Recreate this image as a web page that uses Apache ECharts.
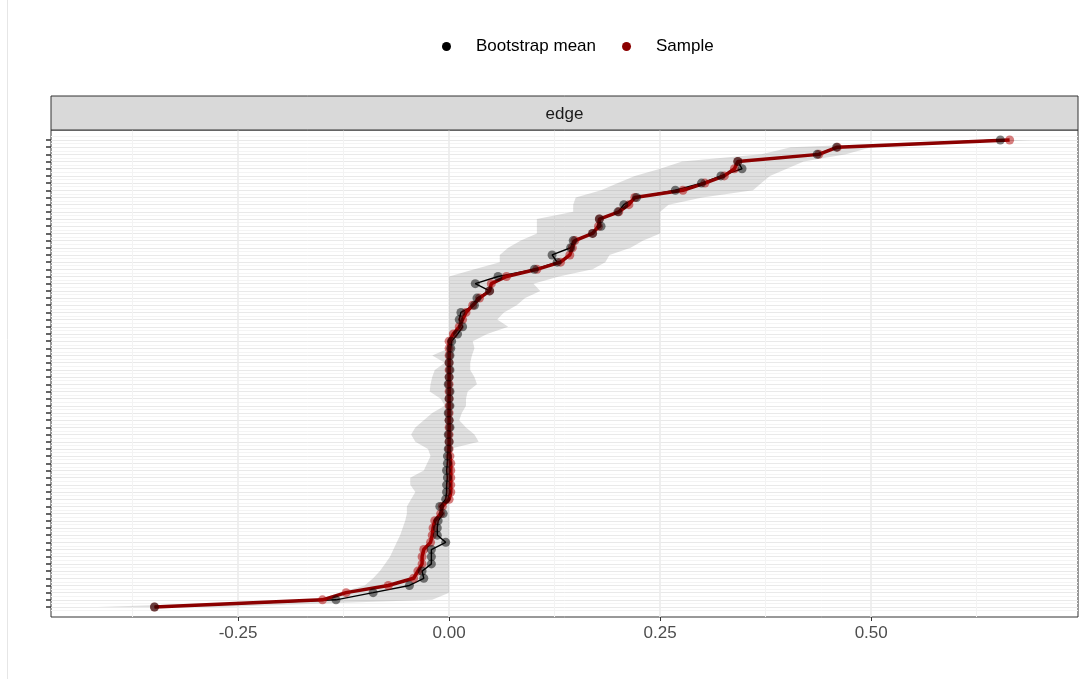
<!DOCTYPE html>
<html>
<head>
<meta charset="utf-8">
<script src="https://cdn.jsdelivr.net/npm/echarts@6/dist/echarts.min.js"></script>
<style>
html,body{margin:0;padding:0;background:#fff;}
#chart{width:1084px;height:679px;}
</style>
</head>
<body>
<div id="chart"></div>
<script>
// Edges sorted by sample value (index 0 = bottom, 65 = top)
const sampleVals = [
  -0.349,-0.150,-0.122,-0.072,-0.042,-0.037,-0.032,-0.032,-0.030,-0.022,
  -0.020,-0.019,-0.017,-0.010,-0.008, 0.000, 0.002, 0.002, 0.002, 0.002,
   0.002, 0.001, 0.000, 0.000, 0.000, 0.000, 0.000, 0.000, 0.000, 0.000,
   0.000, 0.000, 0.000, 0.000, 0.000, 0.000, 0.000, 0.000, 0.005, 0.012,
   0.016, 0.020, 0.028, 0.036, 0.048, 0.050, 0.068, 0.104, 0.132, 0.143,
   0.146, 0.149, 0.170, 0.177, 0.178, 0.201, 0.213, 0.220, 0.277, 0.303,
   0.326, 0.338, 0.342, 0.438, 0.460, 0.664
];
const bootMeanVals = [
  -0.349,-0.134,-0.090,-0.047,-0.030,-0.032,-0.021,-0.021,-0.021,-0.004,
  -0.014,-0.014,-0.013,-0.007,-0.011,-0.004,-0.003,-0.003,-0.002,-0.003,
  -0.002,-0.002,-0.001, 0.000,-0.001, 0.001, 0.000,-0.001, 0.001, 0.000,
   0.001,-0.001, 0.000, 0.001, 0.000, 0.001, 0.002, 0.003, 0.010, 0.016,
   0.012, 0.014, 0.030, 0.033, 0.048, 0.031, 0.058, 0.101, 0.128, 0.122,
   0.144, 0.147, 0.170, 0.180, 0.178, 0.200, 0.207, 0.222, 0.268, 0.299,
   0.322, 0.347, 0.342, 0.436, 0.459, 0.653
];
const ciLower = [
  -0.416,-0.155,-0.130,-0.100,-0.090,-0.082,-0.076,-0.070,-0.066,-0.062,
  -0.058,-0.055,-0.052,-0.050,-0.050,-0.045,-0.040,-0.046,-0.046,-0.030,
  -0.026,-0.022,-0.025,-0.040,-0.045,-0.040,-0.030,-0.020,-0.005,-0.010,
  -0.023,-0.022,-0.020,-0.017,-0.005,-0.020, 0.000, 0.000, 0.000, 0.000,
   0.000, 0.000, 0.000, 0.000, 0.000, 0.000, 0.000, 0.030, 0.060, 0.060,
   0.070, 0.085, 0.104, 0.104, 0.104, 0.147, 0.147, 0.150, 0.180, 0.200,
   0.220, 0.250, 0.276, 0.370, 0.405, 0.620
];
const ciUpper = [
  -0.270,-0.020, 0.000, 0.000, 0.000, 0.000, 0.000, 0.000, 0.000, 0.000,
   0.000, 0.000, 0.000, 0.000, 0.000, 0.000, 0.000, 0.000, 0.000, 0.000,
   0.000, 0.000, 0.000, 0.035, 0.030, 0.020, 0.012, 0.015, 0.020, 0.020,
   0.022, 0.033, 0.030, 0.025, 0.025, 0.027, 0.030, 0.028, 0.045, 0.070,
   0.057, 0.065, 0.080, 0.090, 0.108, 0.100, 0.130, 0.170, 0.185, 0.190,
   0.215, 0.230, 0.250, 0.250, 0.250, 0.250, 0.260, 0.300, 0.360, 0.370,
   0.380, 0.400, 0.420, 0.470, 0.500, 0.690
];
const xTickVals = [-0.25, 0, 0.25, 0.5];
const xMinorVals = [-0.375, -0.125, 0.125, 0.375, 0.625];
const panelTitle = 'edge';
const legendNames = ['Bootstrap mean', 'Sample'];

const edgeIdx = sampleVals.map((_, i) => i);
const edgeHalf = [-0.5].concat(edgeIdx.map(i => i + 0.5));
const meanPairs = bootMeanVals.map((v, i) => [v, i]);
const samplePairs = sampleVals.map((v, i) => [v, i]);

const FONT = "'Liberation Sans', Arial, sans-serif";
const chart = echarts.init(document.getElementById('chart'), null, {renderer: 'canvas'});

const option = {
  backgroundColor: '#ffffff',
  animation: false,
  textStyle: {fontFamily: FONT},
  grid: {left: 51, right: 6, top: 130, bottom: 62, show: true, borderColor: '#333333', borderWidth: 1, backgroundColor: '#ffffff', containLabel: false},
  legend: {
    top: 33, left: 437,
    itemWidth: 9, itemHeight: 9, itemGap: 26,
    icon: 'circle',
    textStyle: {fontSize: 17, color: '#000000', fontFamily: FONT, padding: [0, 0, 0, 20]},
    data: [
      {name: legendNames[0], itemStyle: {color: '#000000', opacity: 1}},
      {name: legendNames[1], itemStyle: {color: '#8b0000', opacity: 1}}
    ]
  },
  xAxis: [
    {
      type: 'value', min: -0.4716, max: 0.745, position: 'bottom',
      axisLine: {show: false, onZero: false},
      axisTick: {show: true, length: 4, customValues: xTickVals, lineStyle: {color: '#333333', width: 1}},
      axisLabel: {customValues: xTickVals, formatter: v => v.toFixed(2), color: '#4d4d4d', fontSize: 17, margin: 8, fontFamily: FONT},
      splitLine: {show: true, lineStyle: {color: '#ebebeb', width: 1.6}}
    },
    {
      type: 'value', min: -0.4716, max: 0.745, position: 'bottom',
      axisLine: {show: false, onZero: false},
      axisTick: {show: false, customValues: xMinorVals},
      axisLabel: {show: false, customValues: xMinorVals},
      splitLine: {show: true, lineStyle: {color: '#f3f3f3', width: 1}}
    }
  ],
  yAxis: [
    {
      type: 'value', min: -1.392, max: 66.392, position: 'left',
      axisLine: {show: false, onZero: false},
      axisTick: {show: true, length: 5, customValues: edgeIdx, lineStyle: {color: '#333333', width: 1.5}},
      axisLabel: {show: false, customValues: edgeIdx},
      splitLine: {show: true, lineStyle: {color: '#e9e9e9', width: 1}}
    },
    {
      type: 'value', min: -1.392, max: 66.392, position: 'left',
      axisLine: {show: false, onZero: false},
      axisTick: {show: false, customValues: edgeHalf},
      axisLabel: {show: false, customValues: edgeHalf},
      splitLine: {show: true, lineStyle: {color: '#f4f4f4', width: 1}}
    }
  ],
  graphic: [
    {type: 'line', shape: {x1: 7.5, y1: 0, x2: 7.5, y2: 679}, style: {stroke: '#e6e6e6', lineWidth: 1}, silent: true},
    {type: 'rect', shape: {x: 51, y: 96, width: 1027, height: 34}, style: {fill: '#d9d9d9', stroke: '#333333', lineWidth: 1}, silent: true, z: 10},
    {type: 'text', x: 564.5, y: 114, style: {text: panelTitle, fill: '#1a1a1a', fontSize: 17, fontFamily: FONT, align: 'center', verticalAlign: 'middle'}, silent: true, z: 11}
  ],
  series: [
    {
      type: 'custom', name: 'CI', coordinateSystem: 'cartesian2d', silent: true, z: 1,
      data: [[0, 0]],
      renderItem: function (params, api) {
        const pts = [];
        for (let i = 0; i < ciLower.length; i++) pts.push(api.coord([ciLower[i], i]));
        for (let i = ciUpper.length - 1; i >= 0; i--) pts.push(api.coord([ciUpper[i], i]));
        return {type: 'polygon', shape: {points: pts}, style: {fill: 'rgba(128,128,128,0.25)', stroke: null}};
      }
    },
    {
      type: 'line', name: legendNames[0], data: meanPairs, showSymbol: false, symbol: 'none', z: 2,
      lineStyle: {color: '#000000', width: 1.4}, itemStyle: {color: '#000000'}
    },
    {
      type: 'line', name: legendNames[1], data: samplePairs, showSymbol: false, symbol: 'none', z: 3,
      lineStyle: {color: '#8b0000', width: 3.5}, itemStyle: {color: '#8b0000'}
    },
    {
      type: 'scatter', name: legendNames[1], data: samplePairs, symbol: 'circle', symbolSize: 9, z: 4,
      itemStyle: {color: '#b00000', opacity: 0.5}
    },
    {
      type: 'scatter', name: legendNames[0], data: meanPairs, symbol: 'circle', symbolSize: 9, z: 5,
      itemStyle: {color: '#000000', opacity: 0.5}
    }
  ]
};
chart.setOption(option);
</script>
</body>
</html>
